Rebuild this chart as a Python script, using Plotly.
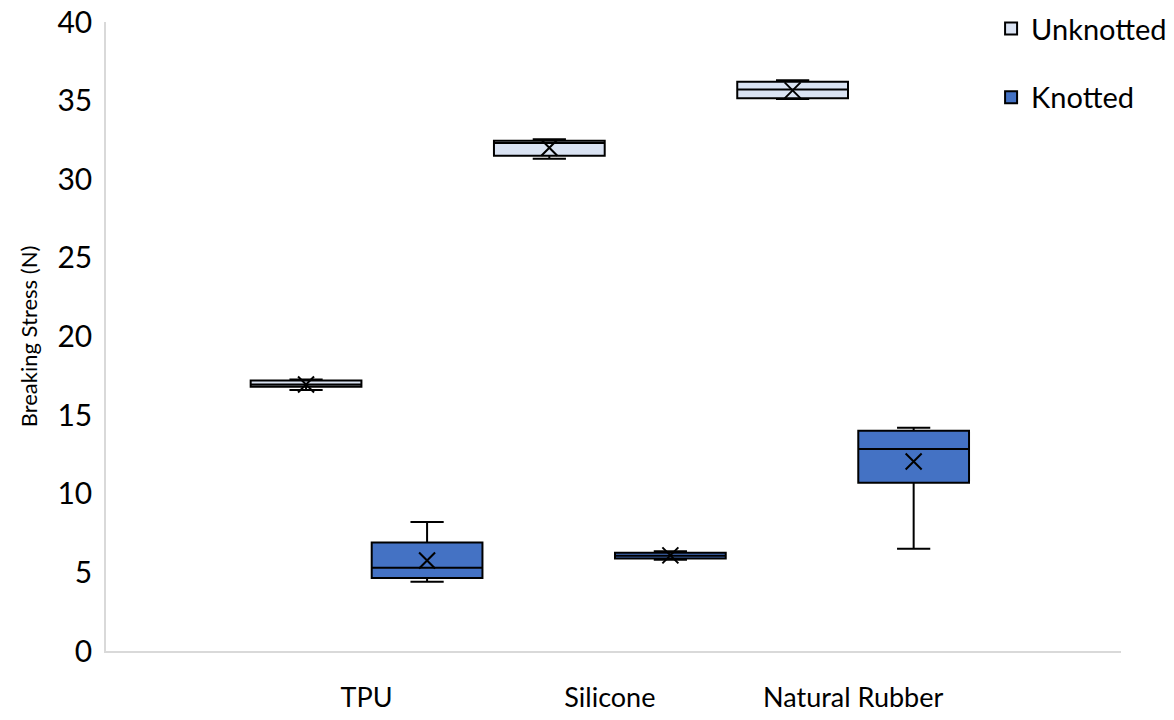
import plotly.graph_objects as go

categories = ["TPU", "Silicone", "Natural Rubber"]

unk_lower = [16.6, 31.3, 35.1]
unk_q1 = [16.8, 31.5, 35.15]
unk_median = [16.95, 32.3, 35.7]
unk_q3 = [17.2, 32.45, 36.2]
unk_upper = [17.27, 32.55, 36.3]
unk_mean = [16.95, 32.0, 35.65]

kn_lower = [4.4, 5.8, 6.5]
kn_q1 = [4.65, 5.88, 10.7]
kn_median = [5.3, 6.05, 12.85]
kn_q3 = [6.9, 6.25, 14.0]
kn_upper = [8.2, 6.35, 14.2]
kn_mean = [5.75, 6.08, 12.05]

FONT = "Lato"
UNK_FILL = "#DAE3F3"
KN_FILL = "#4472C4"

fig = go.Figure()
fig.add_trace(go.Box(
    name="Unknotted", x=categories, q1=unk_q1, median=unk_median, q3=unk_q3,
    lowerfence=unk_lower, upperfence=unk_upper,
    fillcolor=UNK_FILL, line=dict(color="black", width=2), whiskerwidth=0.3,
    offsetgroup="u", legendgroup="u", boxpoints=False,
))
fig.add_trace(go.Box(
    name="Knotted", x=categories, q1=kn_q1, median=kn_median, q3=kn_q3,
    lowerfence=kn_lower, upperfence=kn_upper,
    fillcolor=KN_FILL, line=dict(color="black", width=2), whiskerwidth=0.3,
    offsetgroup="k", legendgroup="k", boxpoints=False,
))
fig.add_trace(go.Scatter(
    x=categories, y=unk_mean, mode="markers", offsetgroup="u", showlegend=False,
    marker=dict(symbol="x-thin-open", size=16, line=dict(color="black", width=2), color="black"),
    hoverinfo="skip",
))
fig.add_trace(go.Scatter(
    x=categories, y=kn_mean, mode="markers", offsetgroup="k", showlegend=False,
    marker=dict(symbol="x-thin-open", size=16, line=dict(color="black", width=2), color="black"),
    hoverinfo="skip",
))

fig.update_layout(
    width=1174, height=720,
    paper_bgcolor="white", plot_bgcolor="white",
    margin=dict(l=106, r=53, t=22, b=69, autoexpand=False),
    boxmode="group", boxgap=0.005, boxgroupgap=0.085,
    scattermode="group", scattergap=0.005,
    font=dict(family=FONT, color="black", size=28),
    legend=dict(
        x=0.872, y=1.03, xanchor="left", yanchor="top",
        font=dict(family=FONT, size=29, color="black"),
        bgcolor="rgba(0,0,0,0)", tracegroupgap=28, traceorder="grouped",
        itemsizing="constant",
    ),
    showlegend=True,
)
fig.update_xaxes(
    type="category", range=[-1.071, 3.101], automargin=False,
    showline=True, linecolor="#D9D9D9", linewidth=1.5,
    showgrid=False, zeroline=False, ticks="",
    tickfont=dict(family=FONT, size=27, color="black"),
    ticklabelstandoff=22,
)
fig.update_yaxes(
    range=[0, 40], dtick=5, tick0=0, automargin=False,
    showline=True, linecolor="#D9D9D9", linewidth=1.5,
    showgrid=False, zeroline=False, ticks="",
    tickfont=dict(family=FONT, size=30, color="black"),
    ticklabelstandoff=6,
    title=dict(text="Breaking Stress (N)", font=dict(family=FONT, size=22, color="black"), standoff=14),
)

fig.write_html(
    "out.html",
    config={"displayModeBar": False},
    post_script="document.body.style.margin='0';document.body.style.overflow='hidden';",
)
